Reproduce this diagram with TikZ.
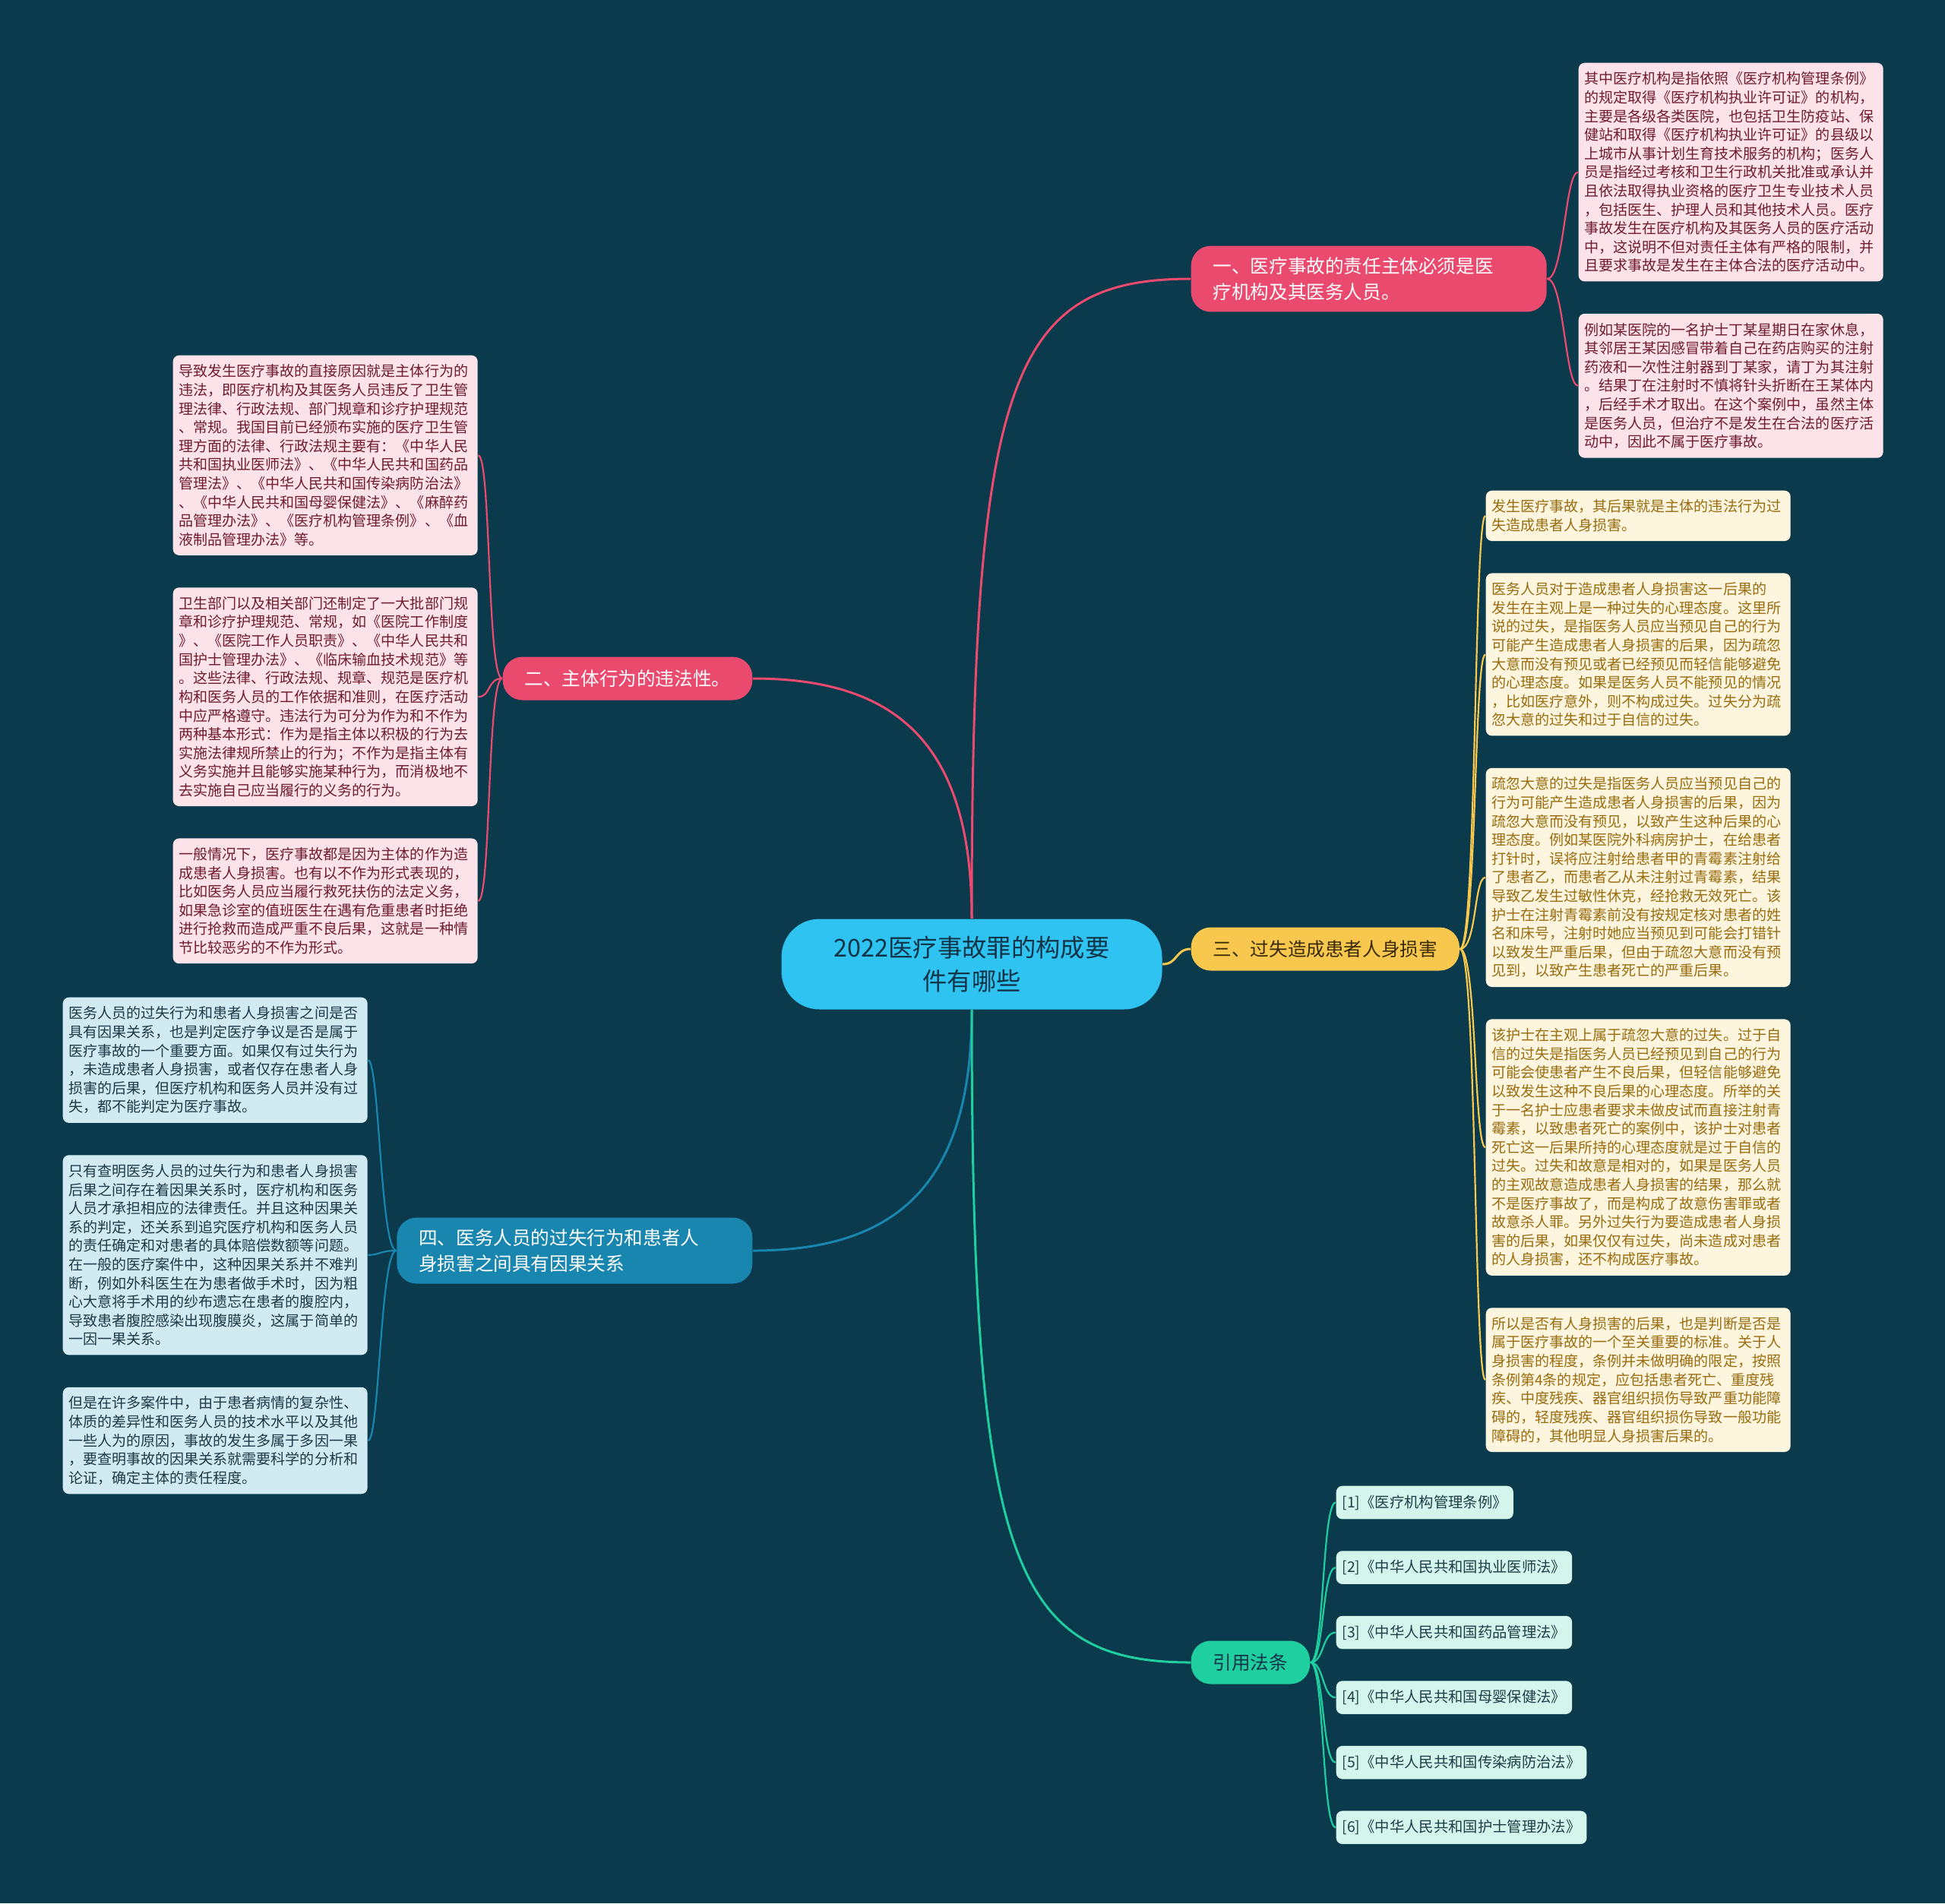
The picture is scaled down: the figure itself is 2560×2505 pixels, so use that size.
\documentclass[tikz,border=0pt]{standalone}
\usepackage{fontspec}
\newfontfamily\cjk{Noto Sans CJK SC}
\usetikzlibrary{positioning}
\definecolor{bgc}{HTML}{0A3A4C}
\definecolor{rootc}{HTML}{2EC3F1}
\definecolor{roott}{HTML}{123448}
\definecolor{pinkc}{HTML}{EA4A6E}
\definecolor{yelc}{HTML}{F8C84E}
\definecolor{yelbt}{HTML}{3A2A08}
\definecolor{bluec}{HTML}{1886AE}
\definecolor{grnc}{HTML}{1FCF9F}
\definecolor{pinkl}{HTML}{FCE3E9}
\definecolor{pinkt}{HTML}{6F1B2F}
\definecolor{yell}{HTML}{FDF5DE}
\definecolor{yelt}{HTML}{996C10}
\definecolor{bluel}{HTML}{D2EAF2}
\definecolor{bluet}{HTML}{1D3A48}
\definecolor{grnl}{HTML}{D3F5EC}
\definecolor{grnt}{HTML}{1C3E46}

\begin{document}
\begin{tikzpicture}[x=0.1mm,y=-0.1mm,font=\cjk,
  root/.style={fill=rootc,text=roott,rounded corners=5mm,align=center,minimum width=50.1mm,minimum height=11.9mm,font=\cjk\fontsize{9.2}{12.6}\selectfont},
  br/.style={rounded corners=2.6mm,inner xsep=2.9mm,inner ysep=1.5mm,minimum height=5.7mm,font=\cjk\fontsize{7}{9.7}\selectfont},
  leaf/.style={rounded corners=0.8mm,text width=38.6mm,align=left,inner xsep=0.75mm,inner ysep=1.2mm,font=\cjk\fontsize{5.42}{7}\selectfont},
  pleaf/.style={leaf,fill=pinkl,text=pinkt},
  yleaf/.style={leaf,fill=yell,text=yelt},
  bleaf/.style={leaf,fill=bluel,text=bluet},
  law/.style={rounded corners=0.8mm,inner xsep=0.8mm,inner ysep=1.2mm,fill=grnl,text=grnt,font=\cjk\fontsize{5.5}{7}\selectfont},
  lk/.style={line width=0.3mm},
  sub/.style={line width=0.22mm},
  node distance=4.1mm]
  \fill[bgc] (0,0) rectangle (2560,2505);

  \node[root] (root) at (1279,1269) {2022医疗事故罪的构成要\\件有哪些};
  \node[br,fill=pinkc,text=white,anchor=west,text width=41mm,align=left] (b1) at (1567,367) {一、医疗事故的责任主体必须是医\\疗机构及其医务人员。};
  \node[br,fill=pinkc,text=white,anchor=east] (b2) at (991,893) {二、主体行为的违法性。};
  \node[br,fill=yelc,text=yelbt,anchor=west] (b3) at (1567,1249) {三、过失造成患者人身损害};
  \node[br,fill=bluec,text=white,anchor=east,text width=41mm,align=left] (b4) at (991,1646) {四、医务人员的过失行为和患者人\\身损害之间具有因果关系};
  \node[br,fill=grnc,text=roott,anchor=west] (b5) at (1567,2188) {引用法条};

  % 一
  \node[pleaf,anchor=north west] (p1) at (2077,82) {其中医疗机构是指依照《医疗机构管理条例》\\的规定取得《医疗机构执业许可证》的机构，\\主要是各级各类医院，也包括卫生防疫站、保\\健站和取得《医疗机构执业许可证》的县级以\\上城市从事计划生育技术服务的机构；医务人\\员是指经过考核和卫生行政机关批准或承认并\\且依法取得执业资格的医疗卫生专业技术人员\\，包括医生、护理人员和其他技术人员。医疗\\事故发生在医疗机构及其医务人员的医疗活动\\中，这说明不但对责任主体有严格的限制，并\\且要求事故是发生在主体合法的医疗活动中。};
  \node[pleaf,below=of p1] (p2) {例如某医院的一名护士丁某星期日在家休息，\\其邻居王某因感冒带着自己在药店购买的注射\\药液和一次性注射器到丁某家，请丁为其注射\\。结果丁在注射时不慎将针头折断在王某体内\\，后经手术才取出。在这个案例中，虽然主体\\是医务人员，但治疗不是发生在合法的医疗活\\动中，因此不属于医疗事故。};

  % 二
  \node[pleaf,anchor=north west] (l1) at (227,467) {导致发生医疗事故的直接原因就是主体行为的\\违法，即医疗机构及其医务人员违反了卫生管\\理法律、行政法规、部门规章和诊疗护理规范\\、常规。我国目前已经颁布实施的医疗卫生管\\理方面的法律、行政法规主要有：《中华人民\\共和国执业医师法》、《中华人民共和国药品\\管理法》、《中华人民共和国传染病防治法》\\、《中华人民共和国母婴保健法》、《麻醉药\\品管理办法》、《医疗机构管理条例》、《血\\液制品管理办法》等。};
  \node[pleaf,below=of l1] (l2) {卫生部门以及相关部门还制定了一大批部门规\\章和诊疗护理规范、常规，如《医院工作制度\\》、《医院工作人员职责》、《中华人民共和\\国护士管理办法》、《临床输血技术规范》等\\。这些法律、行政法规、规章、规范是医疗机\\构和医务人员的工作依据和准则，在医疗活动\\中应严格遵守。违法行为可分为作为和不作为\\两种基本形式：作为是指主体以积极的行为去\\实施法律规所禁止的行为；不作为是指主体有\\义务实施并且能够实施某种行为，而消极地不\\去实施自己应当履行的义务的行为。};
  \node[pleaf,below=of l2] (l3) {一般情况下，医疗事故都是因为主体的作为造\\成患者人身损害。也有以不作为形式表现的，\\比如医务人员应当履行救死扶伤的法定义务，\\如果急诊室的值班医生在遇有危重患者时拒绝\\进行抢救而造成严重不良后果，这就是一种情\\节比较恶劣的不作为形式。};

  % 三
  \node[yleaf,anchor=north west] (y1) at (1955,645) {发生医疗事故，其后果就是主体的违法行为过\\失造成患者人身损害。};
  \node[yleaf,below=of y1] (y2) {医务人员对于造成患者人身损害这一后果的\\发生在主观上是一种过失的心理态度。这里所\\说的过失，是指医务人员应当预见自己的行为\\可能产生造成患者人身损害的后果，因为疏忽\\大意而没有预见或者已经预见而轻信能够避免\\的心理态度。如果是医务人员不能预见的情况\\，比如医疗意外，则不构成过失。过失分为疏\\忽大意的过失和过于自信的过失。};
  \node[yleaf,below=of y2] (y3) {疏忽大意的过失是指医务人员应当预见自己的\\行为可能产生造成患者人身损害的后果，因为\\疏忽大意而没有预见，以致产生这种后果的心\\理态度。例如某医院外科病房护士，在给患者\\打针时，误将应注射给患者甲的青霉素注射给\\了患者乙，而患者乙从未注射过青霉素，结果\\导致乙发生过敏性休克，经抢救无效死亡。该\\护士在注射青霉素前没有按规定核对患者的姓\\名和床号，注射时她应当预见到可能会打错针\\以致发生严重后果，但由于疏忽大意而没有预\\见到，以致产生患者死亡的严重后果。};
  \node[yleaf,below=of y3] (y4) {该护士在主观上属于疏忽大意的过失。过于自\\信的过失是指医务人员已经预见到自己的行为\\可能会使患者产生不良后果，但轻信能够避免\\以致发生这种不良后果的心理态度。所举的关\\于一名护士应患者要求未做皮试而直接注射青\\霉素，以致患者死亡的案例中，该护士对患者\\死亡这一后果所持的心理态度就是过于自信的\\过失。过失和故意是相对的，如果是医务人员\\的主观故意造成患者人身损害的结果，那么就\\不是医疗事故了，而是构成了故意伤害罪或者\\故意杀人罪。另外过失行为要造成患者人身损\\害的后果，如果仅仅有过失，尚未造成对患者\\的人身损害，还不构成医疗事故。};
  \node[yleaf,below=of y4] (y5) {所以是否有人身损害的后果，也是判断是否是\\属于医疗事故的一个至关重要的标准。关于人\\身损害的程度，条例并未做明确的限定，按照\\条例第4条的规定，应包括患者死亡、重度残\\疾、中度残疾、器官组织损伤导致严重功能障\\碍的，轻度残疾、器官组织损伤导致一般功能\\障碍的，其他明显人身损害后果的。};

  % 四
  \node[bleaf,anchor=north west] (q1) at (82,1312) {医务人员的过失行为和患者人身损害之间是否\\具有因果关系，也是判定医疗争议是否是属于\\医疗事故的一个重要方面。如果仅有过失行为\\，未造成患者人身损害，或者仅存在患者人身\\损害的后果，但医疗机构和医务人员并没有过\\失，都不能判定为医疗事故。};
  \node[bleaf,below=of q1] (q2) {只有查明医务人员的过失行为和患者人身损害\\后果之间存在着因果关系时，医疗机构和医务\\人员才承担相应的法律责任。并且这种因果关\\系的判定，还关系到追究医疗机构和医务人员\\的责任确定和对患者的具体赔偿数额等问题。\\在一般的医疗案件中，这种因果关系并不难判\\断，例如外科医生在为患者做手术时，因为粗\\心大意将手术用的纱布遗忘在患者的腹腔内，\\导致患者腹腔感染出现腹膜炎，这属于简单的\\一因一果关系。};
  \node[bleaf,below=of q2] (q3) {但是在许多案件中，由于患者病情的复杂性、\\体质的差异性和医务人员的技术水平以及其他\\一些人为的原因，事故的发生多属于多因一果\\，要查明事故的因果关系就需要科学的分析和\\论证，确定主体的责任程度。};

  % 引用法条
  \node[law,anchor=north west] (r1) at (1758,1955) {[1]《医疗机构管理条例》};
  \node[law,below=4.05mm of r1.south west,anchor=north west] (r2) {[2]《中华人民共和国执业医师法》};
  \node[law,below=4.05mm of r2.south west,anchor=north west] (r3) {[3]《中华人民共和国药品管理法》};
  \node[law,below=4.05mm of r3.south west,anchor=north west] (r4) {[4]《中华人民共和国母婴保健法》};
  \node[law,below=4.05mm of r4.south west,anchor=north west] (r5) {[5]《中华人民共和国传染病防治法》};
  \node[law,below=4.05mm of r5.south west,anchor=north west] (r6) {[6]《中华人民共和国护士管理办法》};

  \draw[lk,pinkc] (root.north) .. controls +(0,-710) and +(-237,0) .. (b1.west);
  \draw[lk,pinkc] (root.north) .. controls +(0,-230) and +(189,0) .. (b2.east);
  \draw[lk,yelc] (root.east) .. controls +(20,0) and +(-20,0) .. (b3.west);
  \draw[lk,bluec] (root.south) .. controls +(0,230) and +(189,0) .. (b4.east);
  \draw[lk,grnc] (root.south) .. controls +(0,721) and +(-237,0) .. (b5.west);

  \foreach \n in {p1,p2} \draw[sub,pinkc] (b1.east) .. controls +(22,0) and +(-17,0) .. (\n.west);
  \foreach \n in {l1,l2,l3} \draw[sub,pinkc] (b2.west) .. controls +(-20,0) and +(17,0) .. (\n.east);
  \foreach \n in {y1,y2,y3,y4,y5} \draw[sub,yelc] (b3.east) .. controls +(22,0) and +(-15,0) .. (\n.west);
  \foreach \n in {q1,q2,q3} \draw[sub,bluec] (b4.west) .. controls +(-21,0) and +(15,0) .. (\n.east);
  \foreach \n in {r1,r2,r3,r4,r5,r6} \draw[sub,grnc] (b5.east) .. controls +(18,0) and +(-18,0) .. (\n.west);
\end{tikzpicture}
\end{document}
